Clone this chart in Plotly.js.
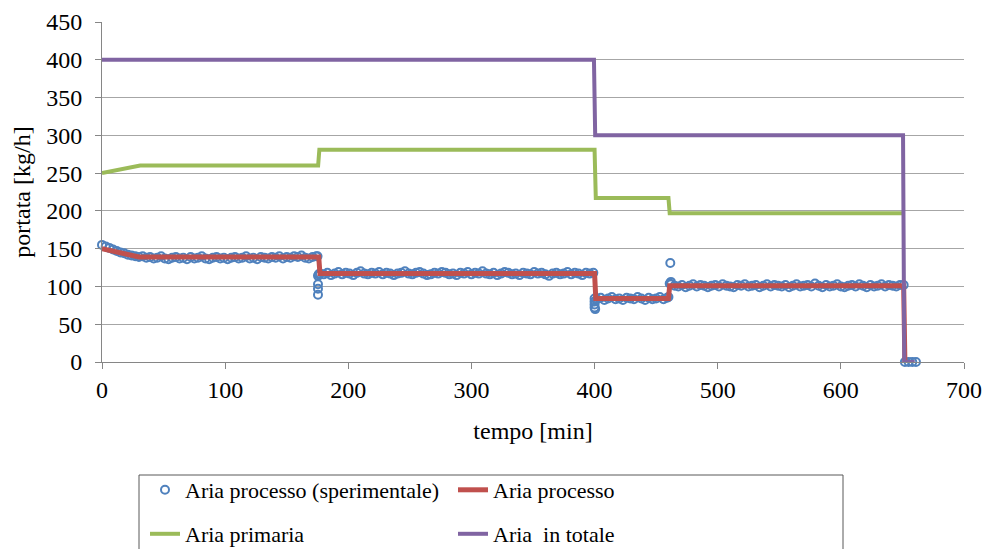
<!DOCTYPE html>
<html>
<head>
<meta charset="utf-8">
<script src="https://cdn.plot.ly/plotly-3.0.1.min.js"></script>
<style>html,body{margin:0;padding:0;background:#fff;}#chart{width:985px;height:549px;}</style>
</head>
<body>
<div id="chart"></div>
<script>
// ---- Experimental points (Aria processo sperimentale) ----
const seg1T = [0,3,6,9,12,15,18,21,24,27,
  30,33,36,39,42,45,48,51,54,57,
  60,63,66,69,72,75,78,81,84,87,
  90,93,96,99,102,105,108,111,114,117,
  120,123,126,129,132,135,138,141,144,147,
  150,153,156,159,162,165,168,171,174];
const seg1V = [155,153,151,149,147,145,144,142,141,140,
  139,140,138,139,137,138,140,137,136,138,
  139,137,138,136,139,137,138,140,137,136,
  138,139,137,138,136,138,139,137,138,140,
  137,138,136,139,138,137,139,138,140,137,
  139,138,140,139,141,138,137,139,140];
const step1T = [175,175.4,175.4,175.4,175.4,176];
const step1V = [140,114,103,97,89,116];
const seg2T = [177,180,183,186,189,192,195,198,201,204,
  207,210,213,216,219,222,225,228,231,234,
  237,240,243,246,249,252,255,258,261,264,
  267,270,273,276,279,282,285,288,291,294,
  297,300,303,306,309,312,315,318,321,324,
  327,330,333,336,339,342,345,348,351,354,
  357,360,363,366,369,372,375,378,381,384,
  387,390,393,396,399];
const seg2V = [117,116,118,115,117,119,116,118,117,115,
  118,120,117,116,118,117,119,116,118,117,
  115,117,118,120,117,116,118,119,117,115,
  116,118,117,119,118,116,117,115,118,117,
  119,116,118,117,120,117,116,118,115,117,
  119,118,116,117,115,118,117,116,119,117,
  118,116,114,117,118,116,117,119,116,118,
  117,115,118,117,118];
const step2T = [400,400,400,400,400.5];
const step2V = [84,80,76,72,70];
const seg3T = [402,405,408,411,414,417,420,423,426,429,
  432,435,438,441,444,447,450,453,456,459];
const seg3V = [83,85,82,84,86,83,84,82,85,84,
  83,86,84,82,85,83,84,86,83,85];
const step3T = [460,461,461.5,462];
const step3V = [86,104,131,106];
const seg4T = [462,465,468,471,474,477,480,483,486,489,
  492,495,498,501,504,507,510,513,516,519,
  522,525,528,531,534,537,540,543,546,549,
  552,555,558,561,564,567,570,573,576,579,
  582,585,588,591,594,597,600,603,606,609,
  612,615,618,621,624,627,630,633,636,639,
  642,645,648,651];
const seg4V = [103,101,100,102,99,101,103,100,102,101,
  99,101,102,100,103,101,100,99,102,101,
  103,100,101,102,99,101,103,100,102,101,
  100,102,99,101,103,100,101,102,100,104,
  101,99,102,100,101,103,100,99,101,102,
  100,103,101,99,102,100,101,103,100,102,
  101,100,102,102];
const seg5T = [652,655,658,661];
const seg5V = [0,0,0,0];

const expT = [].concat(seg1T, step1T, seg2T, step2T, seg3T, step3T, seg4T, seg5T);
const expV = [].concat(seg1V, step1V, seg2V, step2V, seg3V, step3V, seg4V, seg5V);

// ---- Aria processo (model) ----
const procT = [0, 30, 176, 177, 400, 401, 460, 461, 651, 652];
const procV = [150, 139, 139, 117, 117, 84, 84, 101, 101, 0];

// ---- Aria primaria ----
const primT = [0, 31, 175.5, 176.5, 400, 401, 460, 461, 650];
const primV = [250, 260, 260, 281, 281, 217, 217, 197, 197];

// ---- Aria in totale ----
const totT = [0, 399.5, 400.5, 650.5, 651.5, 660];
const totV = [400, 400, 300, 300, 0, 0];

const xTicks = [0,100,200,300,400,500,600,700];
const yTicks = [0,50,100,150,200,250,300,350,400,450];

const FONT = "'Liberation Serif', 'Times New Roman', Times, serif";

const traces = [
  {x: expT, y: expV, type: 'scatter', mode: 'markers', name: 'Aria processo (sperimentale)',
   marker: {symbol: 'circle-open', size: 8, color: '#4F81BD', line: {width: 2, color: '#4F81BD'}},
   cliponaxis: false, legend: 'legend'},
  {x: procT, y: procV, type: 'scatter', mode: 'lines', name: 'Aria processo',
   line: {color: '#C0504D', width: 5}, cliponaxis: false, legend: 'legend'},
  {x: primT, y: primV, type: 'scatter', mode: 'lines', name: 'Aria primaria',
   line: {color: '#9BBB59', width: 4}, cliponaxis: false, legend: 'legend2'},
  {x: totT, y: totV, type: 'scatter', mode: 'lines', name: 'Aria  in totale',
   line: {color: '#8064A2', width: 4}, cliponaxis: false, legend: 'legend2'}
];

const L = 102, R = 21, T = 22, B = 187;
const PW = 985 - L - R, PH = 549 - T - B;
const px = v => (v - L) / PW;
const py = v => (549 - B - v) / PH;

const legendCommon = {
  orientation: 'h', xanchor: 'left', yanchor: 'top',
  font: {family: FONT, size: 22, color: '#000'},
  bgcolor: 'rgba(0,0,0,0)', borderwidth: 0,
  entrywidth: 263, entrywidthmode: 'pixels', itemclick: false
};

const layout = {
  width: 985, height: 549,
  margin: {l: L, r: R, t: T, b: B, autoexpand: false},
  paper_bgcolor: '#fff', plot_bgcolor: '#fff',
  font: {family: FONT, color: '#000'},
  showlegend: true,
  xaxis: {
    range: [0, 700], tickvals: xTicks, ticktext: xTicks.map(String),
    showgrid: false, zeroline: false, showline: true, linecolor: '#868686', linewidth: 1,
    ticks: 'outside', ticklen: 6, tickcolor: '#868686',
    tickfont: {family: FONT, size: 24, color: '#000'},
    title: {text: 'tempo [min]', font: {family: FONT, size: 24, color: '#000'}, standoff: 20}
  },
  yaxis: {
    range: [0, 450], tickvals: yTicks, ticktext: yTicks.map(String),
    showgrid: true, gridcolor: '#A6A6A6', gridwidth: 1,
    zeroline: false, showline: true, linecolor: '#868686', linewidth: 1,
    ticks: 'outside', ticklen: 6, tickcolor: '#868686',
    ticklabelstandoff: 8,
    tickfont: {family: FONT, size: 24, color: '#000'},
    title: {text: 'portata [kg/h]', font: {family: FONT, size: 24, color: '#000'}, standoff: 8}
  },
  legend: Object.assign({}, legendCommon, {x: px(145), y: py(469)}),
  legend2: Object.assign({}, legendCommon, {x: px(145), y: py(513)}),
  shapes: [{
    type: 'rect', xref: 'paper', yref: 'paper',
    x0: px(139), x1: px(843), y0: py(475), y1: py(570),
    line: {color: '#595959', width: 1}, fillcolor: 'rgba(0,0,0,0)', layer: 'above'
  }]
};

Plotly.newPlot('chart', traces, layout, {staticPlot: true, displayModeBar: false});
</script>
</body>
</html>
